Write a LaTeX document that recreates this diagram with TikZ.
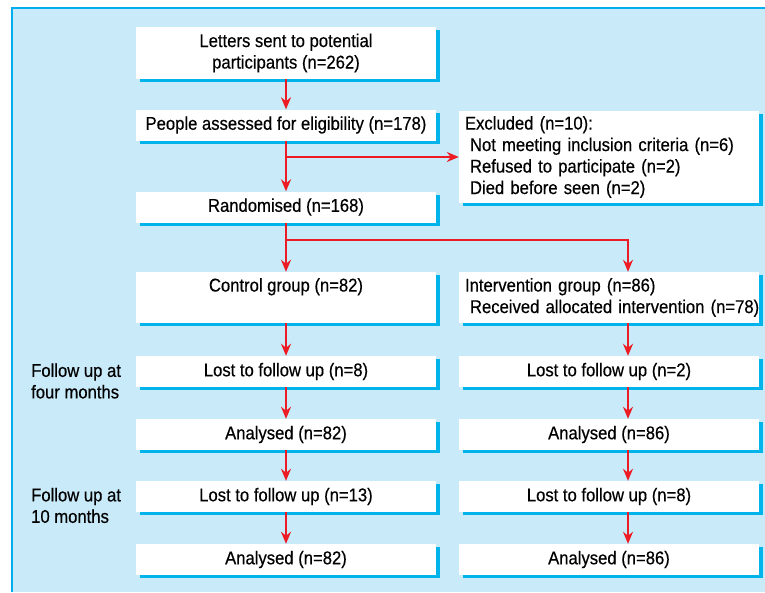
\documentclass[tikz,border=0pt]{standalone}
\usepackage{fontspec}
\setmainfont{Liberation Sans}[FakeStretch=0.9, FakeBold=0.4]
\usetikzlibrary{arrows.meta,shadows}
\definecolor{bgblue}{RGB}{200,234,249}
\definecolor{frameblue}{RGB}{0,174,239}
\definecolor{shadowblue}{RGB}{0,180,235}
\definecolor{flowred}{RGB}{237,28,36}

\begin{document}
\begin{tikzpicture}[x=1pt, y=-1pt,
	font=\fontsize{18.5}{21.5}\selectfont,
	box/.style={fill=white, minimum width=300pt, minimum height=31pt, inner sep=0pt, align=center,
		drop shadow={shadow xshift=3.5pt, shadow yshift=-3pt, fill=shadowblue, opacity=1}},
	leftbox/.style={box, inner xsep=6pt, text width=288pt, align=left},
	flow/.style={draw=flowred, line width=1.8pt, -{Stealth[length=12pt, width=10pt]}},
	side/.style={anchor=west, align=left, inner sep=0pt}]
		%%%%% START %%%%%
		\useasboundingbox (0, 0) rectangle (765, 592);
		
		\fill[bgblue] (12, 8) rectangle (765, 592);
		\draw[frameblue, line width=1.2pt] (12, 592) -- (12, 8) -- (765, 8);
		
		% top part
		\node[box, minimum height=52pt] (letters) at (286, 53) {Letters sent to potential\\participants (n=262)};
		\node[box] (assess) at (286, 125) {People assessed for eligibility (n=178)};
		\node[leftbox, minimum height=92pt] (excl) at (609, 157) {Excluded (n=10):\\\hspace*{5pt}Not meeting inclusion criteria (n=6)\\\hspace*{5pt}Refused to participate (n=2)\\\hspace*{5pt}Died before seen (n=2)};
		\node[box] (rand) at (286, 207) {Randomised (n=168)};
		
		% groups
		\node[box, minimum height=51pt] (ctrl) at (286, 297.5) {Control group (n=82)\\\vphantom{(}};
		\node[leftbox, minimum height=51pt] (intv) at (609, 297.5) {Intervention group (n=86)\\\hspace*{5pt}\mbox{Received allocated intervention (n=78)}};
		
		% follow up
		\node[box] (lostA) at (286, 371.5) {Lost to follow up (n=8)};
		\node[box] (lostB) at (609, 371.5) {Lost to follow up (n=2)};
		\node[box] (anaA) at (286, 434.5) {Analysed (n=82)};
		\node[box] (anaB) at (609, 434.5) {Analysed (n=86)};
		\node[box] (lostC) at (286, 496.5) {Lost to follow up (n=13)};
		\node[box] (lostD) at (609, 496.5) {Lost to follow up (n=8)};
		\node[box] (anaC) at (286, 559.5) {Analysed (n=82)};
		\node[box] (anaD) at (609, 559.5) {Analysed (n=86)};
		
		\node[side] (four) at (31, 381) {Follow up at\\four months};
		\node[side] (ten) at (31, 505.5) {Follow up at\\10 months};
		
		% arrows
		\coordinate (rcol) at (628, 0);
		\coordinate (split) at (286, 240);
		
		\draw[flow] (letters) -- (assess);
		\draw[flow] (assess) -- (rand);
		\draw[flow] (assess.south |- excl.west) -- (excl.west);
		\draw[flow] (rand) -- (ctrl);
		\draw[flow] (split) -| (intv.north -| rcol);
		
		\draw[flow] (ctrl) -- (lostA);
		\draw[flow] (lostA) -- (anaA);
		\draw[flow] (anaA) -- (lostC);
		\draw[flow] (lostC) -- (anaC);
		
		\draw[flow] (intv.south -| rcol) -- (lostB.north -| rcol);
		\draw[flow] (lostB.south -| rcol) -- (anaB.north -| rcol);
		\draw[flow] (anaB.south -| rcol) -- (lostD.north -| rcol);
		\draw[flow] (lostD.south -| rcol) -- (anaD.north -| rcol);
		%%%%% END %%%%%
\end{tikzpicture}
\end{document}
